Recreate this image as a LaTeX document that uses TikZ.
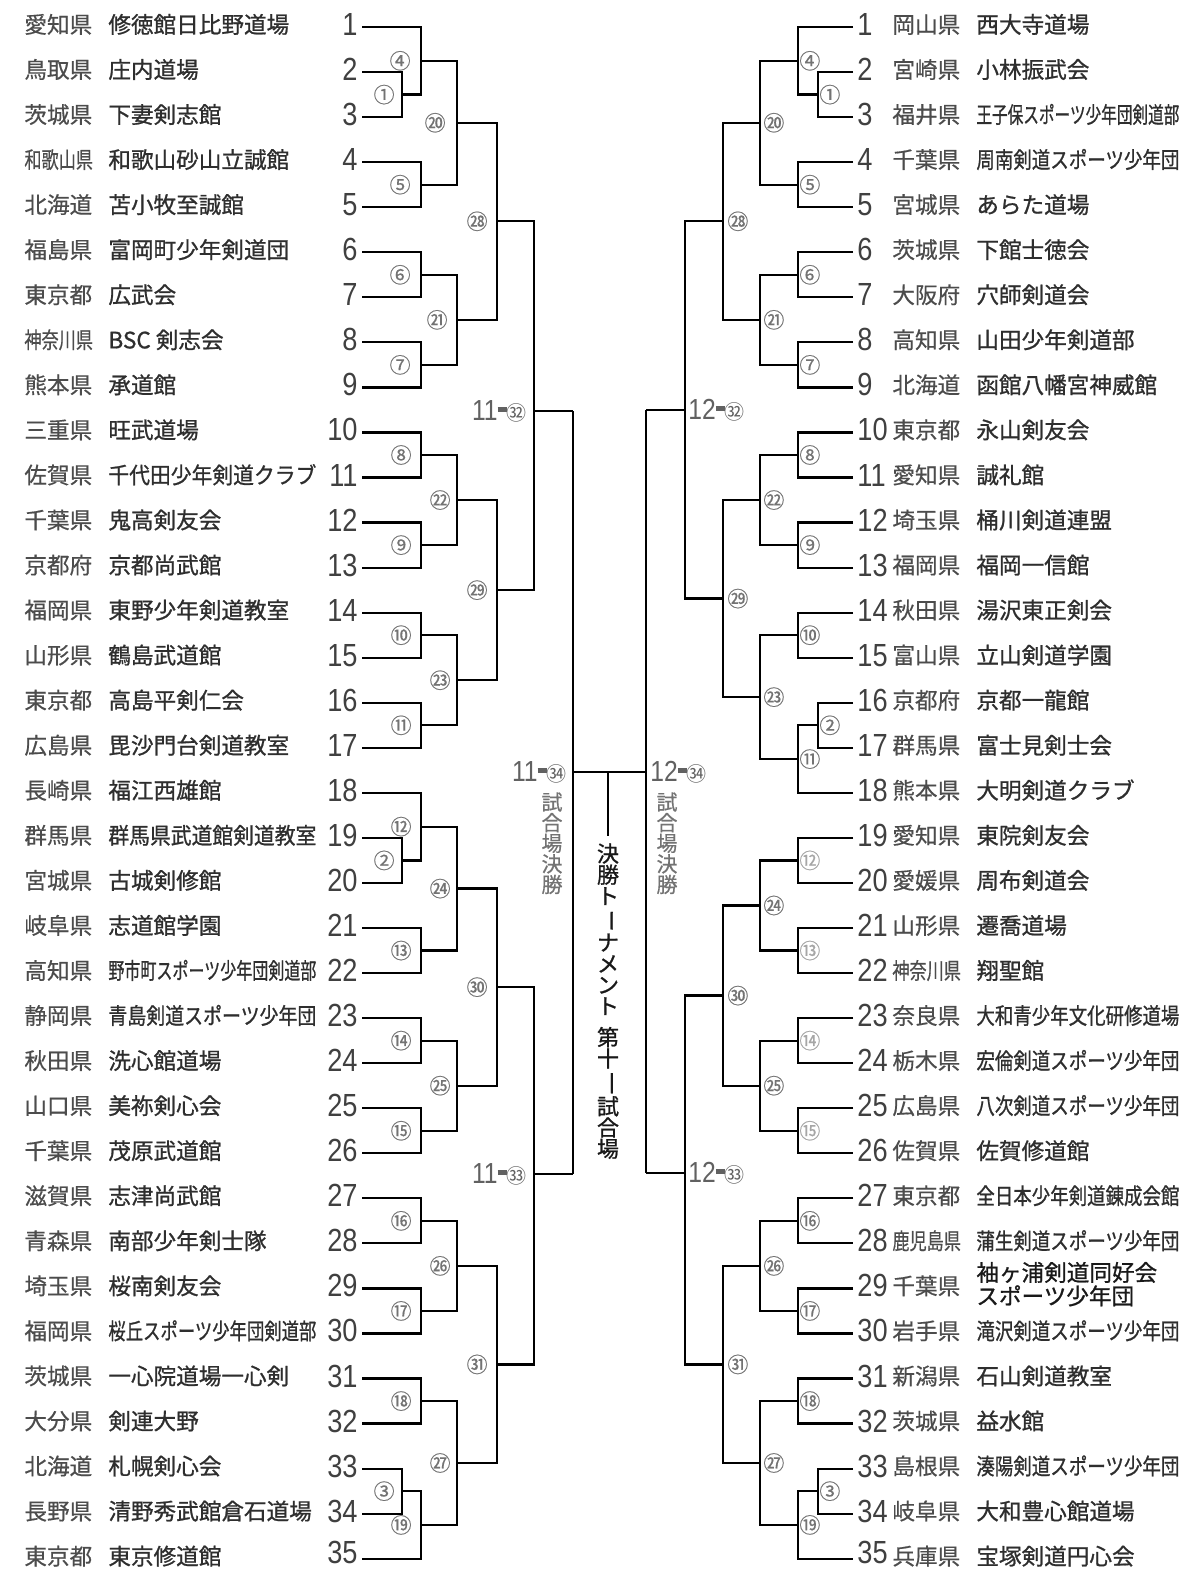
\documentclass[tikz,border=0pt]{standalone}
\usepackage{fontspec}
\setmainfont{Noto Sans CJK JP}
\newfontfamily\jpbold{Noto Sans CJK JP}[FakeBold=0.9]
\newfontfamily\jpmid{Noto Sans CJK JP}[FakeBold=0.5]
\newfontfamily\numfont{Liberation Sans}
\usetikzlibrary{calc}
\newsavebox\fitbox
\newcommand\fitw[2]{\sbox\fitbox{#2}\ifdim\wd\fitbox>#1\relax\resizebox{#1}{\height}{\usebox\fitbox}\else\usebox\fitbox\fi}
\newcommand\hl[2]{{\numfont\scalebox{0.85}[1]{#1}}\raisebox{4pt}{\rule{4.5pt}{2.5pt}}{\rmfamily\fontsize{10}{10}\selectfont#2}}
\newcommand\vbar[1]{\rotatebox[origin=c]{-90}{#1}}
\tikzset{
 br/.style={line width=1.1pt, black},
 prefname/.style={inner sep=0, font=\jpmid\fontsize{11.3}{13}\selectfont, text=black!70},
 teamname/.style={inner sep=0, font=\jpbold\fontsize{11.3}{13}\selectfont, text=black!82},
 teamnum/.style={inner sep=0, font=\numfont\fontsize{16}{18}\selectfont, text=black!75},
 circlab/.style={inner sep=0, font=\jpmid\fontsize{10.5}{11}\selectfont, text=black!55},
 faintlab/.style={circlab, text=black!35},
 halllab/.style={inner sep=0, font=\numfont\fontsize{14.5}{15}\selectfont, text=black!62},
 vtext/.style={inner sep=0, align=center, font=\jpmid\fontsize{10.5}{10.3}\selectfont, text=black!55},
 titletext/.style={inner sep=0, align=center, font=\jpbold\fontsize{11}{10.6}\selectfont, text=black!90},
}
\newcommand\Lrow[3]{%
 \pgfmathsetmacro\ry{27+(#1-1)*45.05}%
 \pgfmathsetmacro\nb{\ry+(#1==35?4.5:8.5)}%
 \coordinate (tL#1) at (362,\ry);
 \node[prefname,anchor=base west] (Lp#1) at (24,\ry+6) {\fitw{34.3pt}{#2}};
 \node[teamname,anchor=base west] (Ln#1) at (108,\ry+6) {\fitw{104pt}{#3}};
 \node[teamnum,anchor=base east] (Lk#1) at (358,\nb) {\scalebox{0.85}[1]{#1}};}
\newcommand\Rrow[3]{%
 \pgfmathsetmacro\ry{27+(#1-1)*45.05}%
 \pgfmathsetmacro\nb{\ry+(#1==35?4.5:8.5)}%
 \coordinate (tR#1) at (853,\ry);
 \node[teamnum,anchor=base west] (Rk#1) at (857,\nb) {\scalebox{0.85}[1]{#1}};
 \node[prefname,anchor=base west] (Rp#1) at (892,\ry+6) {\fitw{34.3pt}{#2}};
 \node[teamname,anchor=base west] (Rn#1) at (976,\ry+6) {\fitw{101.5pt}{#3}};}
% match: name, vertical, a, b, label, x offset, label style
\newcommand\mL[7]{%
 \coordinate (#1t) at (#3 -| #2);
 \coordinate (#1b) at (#4 -| #2);
 \coordinate (#1) at ($(#1t)!0.5!(#1b)$);
 \draw[br] (#3) -- (#1t) -- (#1b) -- (#4);
 \node[#7,anchor=east] (#1l) at ($(#1)+(#6,0)$) {#5};}
\newcommand\mR[7]{%
 \coordinate (#1t) at (#3 -| #2);
 \coordinate (#1b) at (#4 -| #2);
 \coordinate (#1) at ($(#1t)!0.5!(#1b)$);
 \draw[br] (#3) -- (#1t) -- (#1b) -- (#4);
 \node[#7,anchor=west] (#1l) at ($(#1)+(#6,0)$) {#5};}
\begin{document}
\begin{tikzpicture}[x=0.5pt,y=-0.5pt]
\useasboundingbox (0,0) rectangle (1180,1570);
\clip (0,0) rectangle (1180,1570);
\fill[white] (0,0) rectangle (1180,1570);
\coordinate (vL1) at (402,0);
\coordinate (vL2) at (421,0);
\coordinate (vL3) at (457,0);
\coordinate (vL4) at (497,0);
\coordinate (vL6) at (573,0);
\coordinate (vR1) at (818,0);
\coordinate (vR2) at (798,0);
\coordinate (vR3) at (760,0);
\coordinate (vR4) at (723,0);
\coordinate (vR6) at (646,0);
% ---------- left teams
\Lrow{1}{愛知県}{修徳館日比野道場}
\Lrow{2}{鳥取県}{庄内道場}
\Lrow{3}{茨城県}{下妻剣志館}
\Lrow{4}{和歌山県}{和歌山砂山立誠館}
\Lrow{5}{北海道}{苫小牧至誠館}
\Lrow{6}{福島県}{富岡町少年剣道団}
\Lrow{7}{東京都}{広武会}
\Lrow{8}{神奈川県}{BSC 剣志会}
\Lrow{9}{熊本県}{承道館}
\Lrow{10}{三重県}{旺武道場}
\Lrow{11}{佐賀県}{千代田少年剣道クラブ}
\Lrow{12}{千葉県}{鬼高剣友会}
\Lrow{13}{京都府}{京都尚武館}
\Lrow{14}{福岡県}{東野少年剣道教室}
\Lrow{15}{山形県}{鶴島武道館}
\Lrow{16}{東京都}{高島平剣仁会}
\Lrow{17}{広島県}{毘沙門台剣道教室}
\Lrow{18}{長崎県}{福江西雄館}
\Lrow{19}{群馬県}{群馬県武道館剣道教室}
\Lrow{20}{宮城県}{古城剣修館}
\Lrow{21}{岐阜県}{志道館学園}
\Lrow{22}{高知県}{野市町スポーツ少年団剣道部}
\Lrow{23}{静岡県}{青島剣道スポーツ少年団}
\Lrow{24}{秋田県}{洗心館道場}
\Lrow{25}{山口県}{美祢剣心会}
\Lrow{26}{千葉県}{茂原武道館}
\Lrow{27}{滋賀県}{志津尚武館}
\Lrow{28}{青森県}{南部少年剣士隊}
\Lrow{29}{埼玉県}{桜南剣友会}
\Lrow{30}{福岡県}{桜丘スポーツ少年団剣道部}
\Lrow{31}{茨城県}{一心院道場一心剣}
\Lrow{32}{大分県}{剣連大野}
\Lrow{33}{北海道}{札幌剣心会}
\Lrow{34}{長野県}{清野秀武館倉石道場}
\Lrow{35}{東京都}{東京修道館}
% ---------- right teams
\Rrow{1}{岡山県}{西大寺道場}
\Rrow{2}{宮崎県}{小林振武会}
\Rrow{3}{福井県}{王子保スポーツ少年団剣道部}
\Rrow{4}{千葉県}{周南剣道スポーツ少年団}
\Rrow{5}{宮城県}{あらた道場}
\Rrow{6}{茨城県}{下館士徳会}
\Rrow{7}{大阪府}{穴師剣道会}
\Rrow{8}{高知県}{山田少年剣道部}
\Rrow{9}{北海道}{函館八幡宮神威館}
\Rrow{10}{東京都}{永山剣友会}
\Rrow{11}{愛知県}{誠礼館}
\Rrow{12}{埼玉県}{桶川剣道連盟}
\Rrow{13}{福岡県}{福岡一信館}
\Rrow{14}{秋田県}{湯沢東正剣会}
\Rrow{15}{富山県}{立山剣道学園}
\Rrow{16}{京都府}{京都一龍館}
\Rrow{17}{群馬県}{富士見剣士会}
\Rrow{18}{熊本県}{大明剣道クラブ}
\Rrow{19}{愛知県}{東院剣友会}
\Rrow{20}{愛媛県}{周布剣道会}
\Rrow{21}{山形県}{遷喬道場}
\Rrow{22}{神奈川県}{翔聖館}
\Rrow{23}{奈良県}{大和青少年文化研修道場}
\Rrow{24}{栃木県}{宏倫剣道スポーツ少年団}
\Rrow{25}{広島県}{八次剣道スポーツ少年団}
\Rrow{26}{佐賀県}{佐賀修道館}
\Rrow{27}{東京都}{全日本少年剣道錬成会館}
\Rrow{28}{鹿児島県}{蒲生剣道スポーツ少年団}
\Rrow{29}{千葉県}{}
\Rrow{30}{岩手県}{滝沢剣道スポーツ少年団}
\Rrow{31}{新潟県}{石山剣道教室}
\Rrow{32}{茨城県}{益水館}
\Rrow{33}{島根県}{湊陽剣道スポーツ少年団}
\Rrow{34}{岐阜県}{大和豊心館道場}
\Rrow{35}{兵庫県}{宝塚剣道円心会}
\node[teamname,anchor=base west,text=black!90] (Rn29a) at (976,1281) {袖ヶ浦剣道同好会};
\node[teamname,anchor=base west,text=black!90] (Rn29b) at (976,1304.5) {スポーツ少年団};
% ---------- left bracket
\mL{m1}{vL1}{tL2}{tL3}{①}{-7}{circlab}
\mL{m4}{vL2}{tL1}{m1}{④}{-10}{circlab}
\mL{m5}{vL2}{tL4}{tL5}{⑤}{-10}{circlab}
\mL{m20}{vL3}{m4}{m5}{⑳}{-11}{circlab}
\mL{m6}{vL2}{tL6}{tL7}{⑥}{-10}{circlab}
\mL{m7}{vL2}{tL8}{tL9}{⑦}{-10}{circlab}
\mL{m21}{vL3}{m6}{m7}{㉑}{-9}{circlab}
\mL{m28}{vL4}{m20}{m21}{㉘}{-9}{circlab}
\mL{m8}{vL2}{tL10}{tL11}{⑧}{-9}{circlab}
\mL{m9}{vL2}{tL12}{tL13}{⑨}{-9}{circlab}
\mL{m22}{vL3}{m8}{m9}{㉒}{-6}{circlab}
\mL{m10}{vL2}{tL14}{tL15}{⑩}{-9}{circlab}
\mL{m11}{vL2}{tL16}{tL17}{⑪}{-9}{circlab}
\mL{m23}{vL3}{m10}{m11}{㉓}{-6}{circlab}
\mL{m29}{vL4}{m22}{m23}{㉙}{-9}{circlab}
\mL{m2}{vL1}{tL19}{tL20}{②}{-7}{circlab}
\mL{m12}{vL2}{tL18}{m2}{⑫}{-9}{circlab}
\mL{m13}{vL2}{tL21}{tL22}{⑬}{-9}{circlab}
\mL{m24}{vL3}{m12}{m13}{㉔}{-6}{circlab}
\mL{m14}{vL2}{tL23}{tL24}{⑭}{-9}{circlab}
\mL{m15}{vL2}{tL25}{tL26}{⑮}{-9}{circlab}
\mL{m25}{vL3}{m14}{m15}{㉕}{-6}{circlab}
\mL{m30}{vL4}{m24}{m25}{㉚}{-9}{circlab}
\mL{m16}{vL2}{tL27}{tL28}{⑯}{-9}{circlab}
\mL{m17}{vL2}{tL29}{tL30}{⑰}{-9}{circlab}
\mL{m26}{vL3}{m16}{m17}{㉖}{-6}{circlab}
\mL{m18}{vL2}{tL31}{tL32}{⑱}{-9}{circlab}
\mL{m3}{vL1}{tL33}{tL34}{③}{-7}{circlab}
\mL{m19}{vL2}{m3}{tL35}{⑲}{-9}{circlab}
\mL{m27}{vL3}{m18}{m19}{㉗}{-6}{circlab}
\mL{m31}{vL4}{m26}{m27}{㉛}{-9}{circlab}
\coordinate (m32) at (534,411);
\draw[br] (m28) -- (m28 -| m32) -- (m29 -| m32) -- (m29);
\coordinate (m32e) at (m32 -| vL6);
\draw[br] (m32) -- (m32e);
\node[halllab,anchor=east] (m32l) at ($(m32)+(-7,0)$) {\hl{11}{㉜}};
\coordinate (m33) at (534,1174);
\draw[br] (m30) -- (m30 -| m33) -- (m31 -| m33) -- (m31);
\coordinate (m33e) at (m33 -| vL6);
\draw[br] (m33) -- (m33e);
\node[halllab,anchor=east] (m33l) at ($(m33)+(-7,0)$) {\hl{11}{㉝}};
\draw[br] (m32e) -- (m33e);
% ---------- right bracket
\mR{n1}{vR1}{tR2}{tR3}{①}{1}{circlab}
\mR{n4}{vR2}{tR1}{n1}{④}{1}{circlab}
\mR{n5}{vR2}{tR4}{tR5}{⑤}{1}{circlab}
\mR{n20}{vR3}{n4}{n5}{⑳}{3}{circlab}
\mR{n6}{vR2}{tR6}{tR7}{⑥}{1}{circlab}
\mR{n7}{vR2}{tR8}{tR9}{⑦}{1}{circlab}
\mR{n21}{vR3}{n6}{n7}{㉑}{3}{circlab}
\mR{n28}{vR4}{n20}{n21}{㉘}{4}{circlab}
\mR{n8}{vR2}{tR10}{tR11}{⑧}{1}{circlab}
\mR{n9}{vR2}{tR12}{tR13}{⑨}{1}{circlab}
\mR{n22}{vR3}{n8}{n9}{㉒}{3}{circlab}
\mR{n10}{vR2}{tR14}{tR15}{⑩}{1}{circlab}
\mR{n2}{vR1}{tR16}{tR17}{②}{1}{circlab}
\mR{n11}{vR2}{n2}{tR18}{⑪}{1}{circlab}
\mR{n23}{vR3}{n10}{n11}{㉓}{3}{circlab}
\mR{n29}{vR4}{n22}{n23}{㉙}{4}{circlab}
\mR{n12}{vR2}{tR19}{tR20}{⑫}{1}{faintlab}
\mR{n13}{vR2}{tR21}{tR22}{⑬}{1}{faintlab}
\mR{n24}{vR3}{n12}{n13}{㉔}{3}{circlab}
\mR{n14}{vR2}{tR23}{tR24}{⑭}{1}{faintlab}
\mR{n15}{vR2}{tR25}{tR26}{⑮}{1}{faintlab}
\mR{n25}{vR3}{n14}{n15}{㉕}{3}{circlab}
\mR{n30}{vR4}{n24}{n25}{㉚}{4}{circlab}
\mR{n16}{vR2}{tR27}{tR28}{⑯}{1}{circlab}
\mR{n17}{vR2}{tR29}{tR30}{⑰}{1}{circlab}
\mR{n26}{vR3}{n16}{n17}{㉖}{3}{circlab}
\mR{n18}{vR2}{tR31}{tR32}{⑱}{1}{circlab}
\mR{n3}{vR1}{tR33}{tR34}{③}{1}{circlab}
\mR{n19}{vR2}{n3}{tR35}{⑲}{1}{circlab}
\mR{n27}{vR3}{n18}{n19}{㉗}{3}{circlab}
\mR{n31}{vR4}{n26}{n27}{㉛}{4}{circlab}
\coordinate (n32) at (685,410);
\draw[br] (n28) -- (n28 -| n32) -- (n29 -| n32) -- (n29);
\coordinate (n32e) at (n32 -| vR6);
\draw[br] (n32) -- (n32e);
\node[halllab,anchor=west] (n32l) at ($(n32)+(3,0)$) {\hl{12}{㉜}};
\coordinate (n33) at (685,1173);
\draw[br] (n30) -- (n30 -| n33) -- (n31 -| n33) -- (n31);
\coordinate (n33e) at (n33 -| vR6);
\draw[br] (n33) -- (n33e);
\node[halllab,anchor=west] (n33l) at ($(n33)+(3,0)$) {\hl{12}{㉝}};
\draw[br] (n32e) -- (n33e);
% ---------- final
\coordinate (fin) at (608,772);
\coordinate (finL) at (fin -| vL6);
\coordinate (finR) at (fin -| vR6);
\coordinate (finS) at (608,836);
\draw[br] (finL) -- (finR);
\draw[br] (fin) -- (finS);
\node[halllab,anchor=east] (m34l) at ($(finL)+(-6,0)$) {\hl{11}{㉞}};
\node[halllab,anchor=west] (n34l) at ($(finR)+(4,0)$) {\hl{12}{㉞}};
\node[vtext,anchor=north] (vtL) at (552,792) {試\\合\\場\\決\\勝};
\node[vtext,anchor=north] (vtR) at (667,792) {試\\合\\場\\決\\勝};
\node[titletext,anchor=north] (title) at (608,843) {決\\勝\\ト\\\vbar{ー}\\ナ\\メ\\ン\\ト\\[5pt]第\\十\\\vbar{一}\\試\\合\\場};
\end{tikzpicture}
\end{document}
